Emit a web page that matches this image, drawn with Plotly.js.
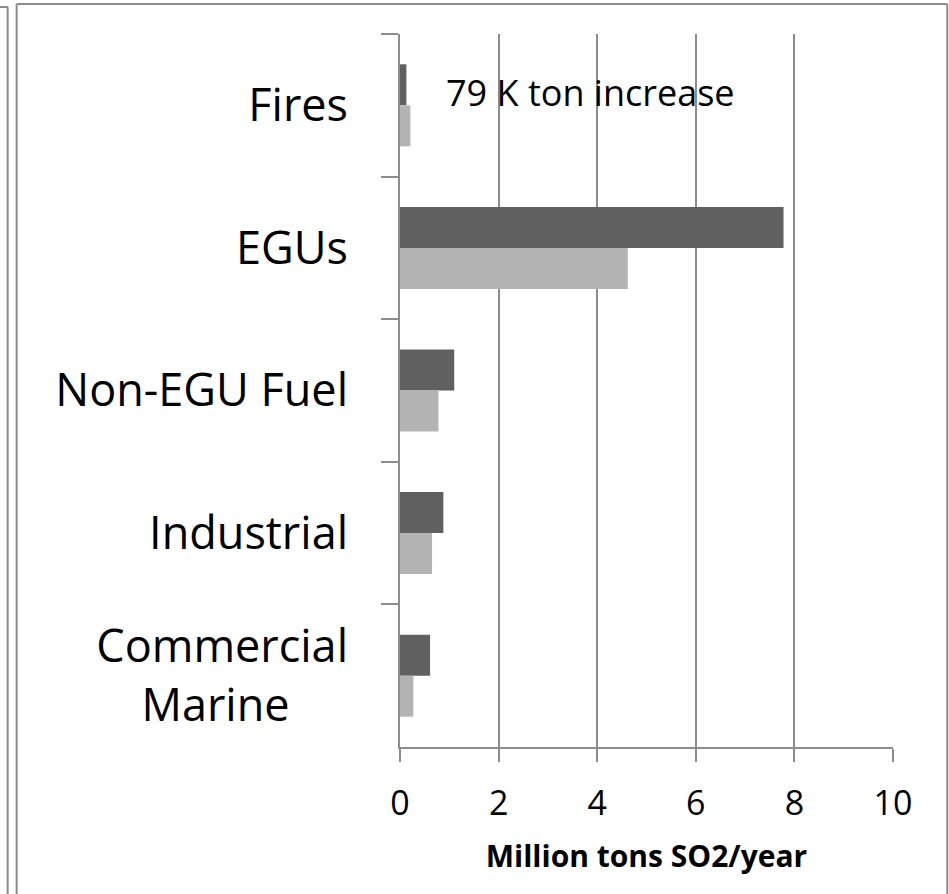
<!DOCTYPE html>
<html>
<head>
<meta charset="utf-8">
<script src="https://cdn.plot.ly/plotly-3.0.1.min.js"></script>
<style>
  html, body { margin: 0; padding: 0; background: #ffffff; }
  #chart { width: 949px; height: 894px; }
</style>
</head>
<body>
<div id="chart"></div>
<script>
// ---- data ----
const categories = ["Fires", "EGUs", "Non-EGU Fuel", "Industrial", "Commercial<br>Marine\u00A0\u00A0\u00A0\u00A0\u00A0"];
const seriesDark = [0.13, 7.78, 1.10, 0.88, 0.61];
const seriesLight = [0.21, 4.62, 0.78, 0.65, 0.27];
const xTickValues = [0, 2, 4, 6, 8, 10];
const xTickLabels = ["0", "2", "4", "6", "8", "10"];
const annotationText = "79 K ton increase";
const xTitle = "Million tons SO2/year";

// ---- layout geometry (pixels) ----
const W = 949, H = 894;
const M = { l: 399.5, r: 56.3, t: 34, b: 147 };
const pw = W - M.l - M.r, ph = H - M.t - M.b;
const px = x => (x - M.l) / pw;
const py = y => (H - M.b - y) / ph;
const frameLine = { color: "#8c8c8c", width: 2 };

const traces = [
  { type: "bar", orientation: "h", y: categories, x: seriesDark,
    marker: { color: "#606060" }, hoverinfo: "x" },
  { type: "bar", orientation: "h", y: categories, x: seriesLight,
    marker: { color: "#b3b3b3" }, hoverinfo: "x" }
];

const layout = {
  width: W, height: H,
  margin: M,
  paper_bgcolor: "#ffffff", plot_bgcolor: "#ffffff",
  showlegend: false,
  barmode: "group", bargap: 0.425, bargroupgap: 0,
  font: { family: "Open Sans, sans-serif", color: "#000000" },
  xaxis: {
    range: [0, 10], tickvals: xTickValues, ticktext: xTickLabels,
    showgrid: true, gridcolor: "#8c8c8c", gridwidth: 2,
    zeroline: false,
    showline: true, linecolor: "#8c8c8c", linewidth: 2,
    ticks: "outside", ticklen: 13, tickwidth: 2, tickcolor: "#8c8c8c",
    tickfont: { size: 34, family: "Open Sans, sans-serif", color: "#000" },
    ticklabelstandoff: 12,
    title: { text: xTitle, font: { size: 30, family: "Open Sans, sans-serif", weight: "bold", color: "#000" }, standoff: 22 }
  },
  yaxis: {
    type: "category", categoryorder: "array", categoryarray: categories,
    autorange: "reversed",
    showgrid: false, zeroline: false,
    showline: true, linecolor: "#8c8c8c", linewidth: 2,
    ticks: "outside", ticklen: 17, tickwidth: 2, tickcolor: "#8c8c8c",
    tickson: "boundaries",
    tickfont: { size: 45, family: "Open Sans, sans-serif", color: "#000" },
    ticklabelstandoff: 41
  },
  annotations: [
    { xref: "x", yref: "paper", x: 3.87, y: py(93), text: annotationText,
      showarrow: false, xanchor: "center", yanchor: "middle",
      font: { size: 36, family: "Open Sans, sans-serif", color: "#000" } }
  ],
  shapes: [
    // outer frame
    { type: "line", xref: "paper", yref: "paper", x0: px(16), x1: px(947), y0: py(4), y1: py(4), line: frameLine },
    { type: "line", xref: "paper", yref: "paper", x0: px(16), x1: px(16), y0: py(4), y1: py(900), line: frameLine },
    { type: "line", xref: "paper", yref: "paper", x0: px(947), x1: px(947), y0: py(4), y1: py(900), line: frameLine },
    // neighbouring frame edge on far left
    { type: "line", xref: "paper", yref: "paper", x0: px(-5), x1: px(7), y0: py(7), y1: py(7), line: frameLine },
    { type: "line", xref: "paper", yref: "paper", x0: px(7), x1: px(7), y0: py(7), y1: py(900), line: frameLine }
  ]
};

Plotly.newPlot("chart", traces, layout, { displayModeBar: false, staticPlot: true });
</script>
</body>
</html>
